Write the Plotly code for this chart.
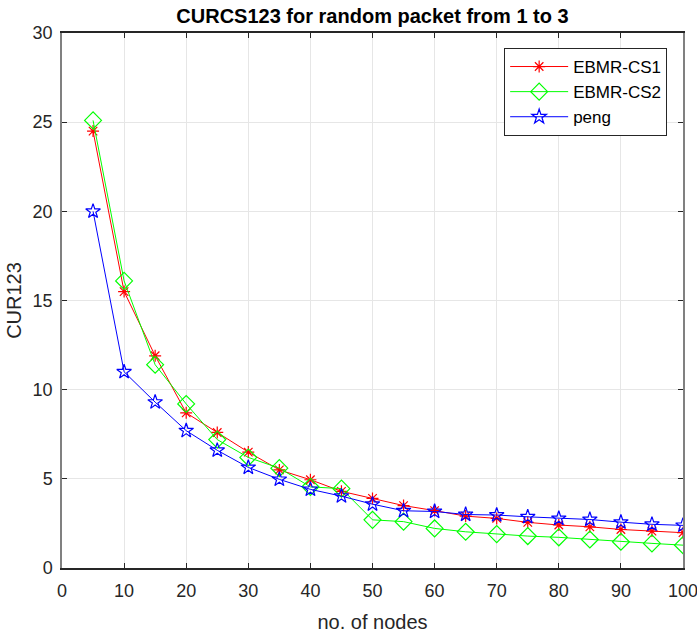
import plotly.graph_objects as go

nodes = [5, 10, 15, 20, 25, 30, 35, 40, 45, 50, 55, 60, 65, 70, 75, 80, 85, 90, 95, 100]
ebmr_cs1 = [24.5, 15.5, 11.9, 8.7, 7.6, 6.5, 5.5, 4.95, 4.3, 3.9, 3.5, 3.22, 2.91, 2.78, 2.56, 2.41, 2.31, 2.16, 2.07, 1.98]
ebmr_cs2 = [25.1, 16.1, 11.4, 9.2, 7.2, 6.2, 5.6, 4.55, 4.45, 2.7, 2.6, 2.22, 2.03, 1.9, 1.79, 1.72, 1.6, 1.47, 1.38, 1.28]
peng = [20.0, 11.0, 9.3, 7.7, 6.6, 5.64, 4.97, 4.41, 4.03, 3.58, 3.21, 3.17, 3.0, 2.97, 2.87, 2.78, 2.72, 2.57, 2.45, 2.39]

FONT = "Liberation Sans, Arial, sans-serif"

fig = go.Figure()
fig.add_trace(go.Scatter(x=nodes, y=ebmr_cs1, mode="lines+markers", name="EBMR-CS1",
                         line=dict(color="#ff0000", width=1),
                         marker=dict(symbol="asterisk-open", size=10, color="#ff0000",
                                     line=dict(color="#ff0000", width=1.2))))
fig.add_trace(go.Scatter(x=nodes, y=ebmr_cs2, mode="lines+markers", name="EBMR-CS2",
                         line=dict(color="#00ff00", width=1),
                         marker=dict(symbol="diamond-open", size=13, color="#00ff00",
                                     line=dict(color="#00ff00", width=1.2))))
fig.add_trace(go.Scatter(x=nodes, y=peng, mode="lines+markers", name="peng",
                         line=dict(color="#0000ff", width=1),
                         marker=dict(symbol="star-open", size=11, color="#0000ff",
                                     line=dict(color="#0000ff", width=1.2))))

fig.update_layout(
    width=697, height=633,
    margin=dict(l=62, r=14, t=33, b=65),
    paper_bgcolor="white", plot_bgcolor="white",
    font=dict(family=FONT, size=18, color="#262626"),
    title=dict(text="<b>CURCS123 for random packet from 1 to 3</b>",
               x=0.5, xref="paper", xanchor="center", y=0.985, yanchor="top",
               font=dict(family=FONT, size=20, color="#000000")),
    legend=dict(x=0.712, y=0.972, xanchor="left", yanchor="top",
                bgcolor="white", bordercolor="#262626", borderwidth=1,
                font=dict(family=FONT, size=17, color="#000000"),
                tracegroupgap=0, itemwidth=58),
    showlegend=True,
)
fig.update_xaxes(range=[0, 100], tickvals=list(range(0, 101, 10)),
                 showgrid=True, gridcolor="#e6e6e6", gridwidth=1,
                 showline=True, linecolor="#262626", linewidth=1.5, mirror="ticks",
                 ticks="inside", ticklen=5, tickcolor="#262626",
                 ticklabeloverflow="allow", ticklabelstandoff=6, automargin=False,
                 zeroline=False,
                 title=dict(text="no. of nodes", font=dict(family=FONT, size=20, color="#262626"), standoff=16))
fig.update_yaxes(range=[0, 30], tickvals=list(range(0, 31, 5)),
                 showgrid=True, gridcolor="#e6e6e6", gridwidth=1,
                 showline=True, linecolor="#808080", linewidth=1.5, mirror="ticks",
                 ticks="inside", ticklen=5, tickcolor="#262626",
                 ticklabelstandoff=4, automargin=False,
                 zeroline=False,
                 title=dict(text="CUR123", font=dict(family=FONT, size=20, color="#262626"), standoff=6))

fig.write_html("out.html")
